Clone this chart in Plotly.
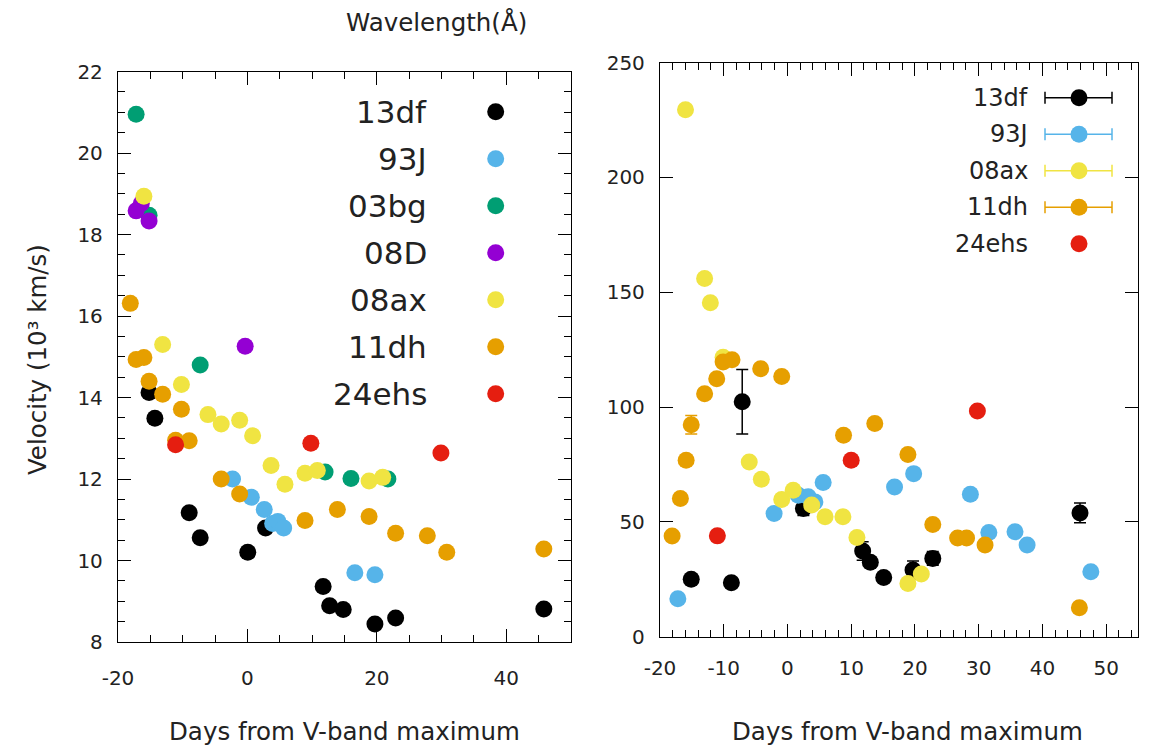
import plotly.graph_objects as go

W, H = 1150, 748
FONT = "DejaVu Sans"
TXT = "#222222"

colors = {
    "13df": "#000000",
    "93J": "#56b4e9",
    "03bg": "#009e73",
    "08D": "#9400d3",
    "08ax": "#f0e442",
    "11dh": "#e69f00",
    "24ehs": "#e51e10",
}

# ---------------- Left panel: velocity (10^3 km/s) ----------------
l_13df_day = [-15.2, -14.3, -9.0, -7.3, 0.05, 2.8, 11.7, 12.7, 14.8, 19.7, 22.9, 45.8]
l_13df_vel = [14.12, 13.49, 11.17, 10.56, 10.20, 10.80, 9.36, 8.89, 8.80, 8.44, 8.59, 8.81]

l_93J_day = [-2.3, 0.6, 2.6, 3.9, 4.7, 5.6, 16.6, 19.7]
l_93J_vel = [12.0, 11.55, 11.25, 10.91, 10.96, 10.80, 9.70, 9.65]

l_03bg_day = [-17.2, -15.2, -7.3, 12.0, 16.0, 21.7]
l_03bg_vel = [20.95, 18.47, 14.80, 12.17, 12.01, 12.0]

l_08D_day = [-17.2, -16.4, -15.2, -0.35]
l_08D_vel = [18.58, 18.76, 18.33, 15.26]

l_08ax_day = [-16.0, -13.1, -10.2, -6.1, -4.05, -1.2, 0.8, 3.65, 5.8, 8.9, 10.8, 18.8, 20.9]
l_08ax_vel = [18.94, 15.30, 14.32, 13.58, 13.35, 13.44, 13.06, 12.33, 11.87, 12.14, 12.21, 11.95, 12.04]

l_11dh_day = [-18.1, -17.2, -16.0, -15.2, -13.1, -10.2, -11.1, -9.0, -4.05, -1.2, 8.9, 13.9, 18.8, 22.9, 27.8, 30.8, 45.8]
l_11dh_vel = [16.31, 14.93, 14.98, 14.40, 14.08, 13.71, 12.95, 12.94, 12.0, 11.63, 10.98, 11.25, 11.08, 10.67, 10.61, 10.20, 10.28]

l_24ehs_day = [-11.1, 9.8, 29.9]
l_24ehs_vel = [12.84, 12.88, 12.64]

left_series = [
    ("13df", l_13df_day, l_13df_vel),
    ("93J", l_93J_day, l_93J_vel),
    ("03bg", l_03bg_day, l_03bg_vel),
    ("08D", l_08D_day, l_08D_vel),
    ("08ax", l_08ax_day, l_08ax_vel),
    ("11dh", l_11dh_day, l_11dh_vel),
    ("24ehs", l_24ehs_day, l_24ehs_vel),
]

# ---------------- Right panel ----------------
r_13df_day = [-15.1, -8.8, -7.1, 2.5, 11.8, 13.0, 15.1, 19.7, 22.8, 45.9]
r_13df_val = [25.0, 23.5, 102.3, 55.8, 37.3, 32.4, 25.8, 29.0, 34.1, 53.9]
r_13df_err = [2.0, 2.0, 14.0, 3.0, 4.0, 2.0, 1.5, 4.0, 3.0, 4.3]

r_93J_day = [-17.2, -2.1, 1.7, 3.25, 4.3, 5.6, 16.8, 19.8, 28.7, 31.6, 35.7, 37.6, 47.6]
r_93J_val = [16.5, 53.6, 61.6, 60.9, 58.7, 67.1, 65.2, 71.0, 62.0, 45.4, 45.7, 39.9, 28.3]
r_93J_err = [1.5] * 13

r_08ax_day = [-16.0, -13.0, -12.1, -10.1, -6.0, -4.1, -0.9, 0.9, 3.8, 5.9, 8.7, 10.9, 18.9, 21.0]
r_08ax_val = [229.4, 156.0, 145.4, 121.7, 76.1, 68.6, 59.7, 63.8, 57.3, 52.2, 52.2, 43.2, 23.2, 27.3]
r_08ax_err = [1.5] * 14

r_11dh_day = [-18.1, -16.8, -15.9, -15.1, -13.0, -11.1, -10.1, -8.7, -4.2, -0.9, 8.8, 13.7, 18.9, 22.8, 26.7, 28.1, 31.0, 45.8]
r_11dh_val = [43.8, 60.2, 76.8, 92.3, 105.8, 112.3, 119.6, 120.6, 116.7, 113.3, 87.7, 92.8, 79.3, 48.9, 43.0, 43.0, 39.9, 12.6]
r_11dh_err = [1.5, 1.5, 1.5, 4.0, 1.5, 1.5, 1.5, 1.5, 1.5, 1.5, 1.5, 1.5, 1.5, 1.5, 1.5, 1.5, 1.5, 1.5]

r_24ehs_day = [-11.0, 10.0, 29.8]
r_24ehs_val = [43.9, 76.8, 98.3]

right_series = [
    ("13df", r_13df_day, r_13df_val, r_13df_err),
    ("93J", r_93J_day, r_93J_val, r_93J_err),
    ("08ax", r_08ax_day, r_08ax_val, r_08ax_err),
    ("11dh", r_11dh_day, r_11dh_val, r_11dh_err),
    ("24ehs", r_24ehs_day, r_24ehs_val, None),
]

# tick labels
left_xticks = [-20, 0, 20, 40]
left_yticks = [8, 10, 12, 14, 16, 18, 20, 22]
right_xticks = [-20, -10, 0, 10, 20, 30, 40, 50]
right_yticks = [0, 50, 100, 150, 200, 250]

MS = 17

fig = go.Figure()

for name, d, v in left_series:
    fig.add_trace(go.Scatter(
        x=d, y=v, mode="markers", name=name, showlegend=False,
        marker=dict(size=MS, color=colors[name], line=dict(width=0)),
        xaxis="x", yaxis="y",
    ))

for name, d, v, e in right_series:
    kw = {}
    if e is not None:
        kw["error_y"] = dict(type="data", array=e, visible=True,
                             color=colors[name], thickness=1.5, width=6)
    fig.add_trace(go.Scatter(
        x=d, y=v, mode="markers", name=name, showlegend=False,
        marker=dict(size=MS, color=colors[name], line=dict(width=0)),
        xaxis="x2", yaxis="y2", **kw,
    ))


def px(x):
    return x / W


def py(y):
    return 1 - y / H


def labels(vals):
    return [str(v) for v in vals]


axis_common = dict(
    showline=True, linecolor="#000000", linewidth=1.3, mirror="allticks",
    ticks="inside", tickcolor="#000000", tickwidth=1, showgrid=False,
    zeroline=False, automargin=False,
    tickfont=dict(family=FONT, size=20, color=TXT),
)

fig.update_layout(
    template="none",
    width=W, height=H,
    margin=dict(l=0, r=0, t=0, b=0, autoexpand=False),
    paper_bgcolor="white", plot_bgcolor="white",
    font=dict(family=FONT, color=TXT),
    showlegend=False,
    xaxis=dict(domain=[px(118), px(571)], range=[-20, 50],
               tickvals=left_xticks, ticktext=labels(left_xticks),
               ticklen=13, ticklabelstandoff=18,
               minor=dict(dtick=5, tick0=0, ticklen=7, ticks="inside", tickcolor="#000000"),
               anchor="y", **axis_common),
    yaxis=dict(domain=[py(642), py(71.5)], range=[8, 22],
               tickvals=left_yticks, ticktext=labels(left_yticks),
               ticklen=13, ticklabelstandoff=10,
               minor=dict(dtick=0.5, tick0=0, ticklen=7, ticks="inside", tickcolor="#000000"),
               anchor="x", **axis_common),
    xaxis2=dict(domain=[px(660), px(1138)], range=[-20, 55],
                tickvals=right_xticks, ticktext=labels(right_xticks),
                ticklen=13, ticklabelstandoff=13,
                minor=dict(dtick=2, tick0=0, ticklen=7, ticks="inside", tickcolor="#000000"),
                anchor="y2", **axis_common),
    yaxis2=dict(domain=[py(636.7), py(62.5)], range=[0, 250],
                tickvals=right_yticks, ticktext=labels(right_yticks),
                ticklen=13, ticklabelstandoff=10,
                anchor="x2", **axis_common),
)

title_font = dict(family=FONT, size=24.5, color=TXT)
annotations = [
    dict(text="Wavelength(Å)", x=px(436), y=py(22), xref="paper", yref="paper",
         xanchor="center", yanchor="middle", showarrow=False, font=title_font),
    dict(text="Velocity (10³ km/s)", x=px(38), y=py(360), xref="paper", yref="paper",
         xanchor="center", yanchor="middle", showarrow=False, textangle=-90, font=title_font),
    dict(text="Days from V-band maximum", x=px(344), y=py(731), xref="paper", yref="paper",
         xanchor="center", yanchor="middle", showarrow=False, font=title_font),
    dict(text="Days from V-band maximum", x=px(907), y=py(731), xref="paper", yref="paper",
         xanchor="center", yanchor="middle", showarrow=False, font=title_font),
]

shapes = []

# Left legend (text left of marker)
left_leg_names = ["13df", "93J", "03bg", "08D", "08ax", "11dh", "24ehs"]
for i, name in enumerate(left_leg_names):
    yy = 111.7 + i * 47.0
    annotations.append(dict(text=name, x=px(429), y=py(yy), xref="paper", yref="paper",
                            xanchor="right", yanchor="middle", showarrow=False,
                            font=dict(family=FONT, size=31, color=TXT)))
    shapes.append(dict(type="circle", xref="paper", yref="paper",
                       xsizemode="pixel", ysizemode="pixel",
                       xanchor=px(495.7), yanchor=py(yy),
                       x0=-MS / 2, x1=MS / 2, y0=-MS / 2, y1=MS / 2,
                       fillcolor=colors[name], line=dict(width=0)))

# Right legend
right_leg_names = ["13df", "93J", "08ax", "11dh", "24ehs"]
right_leg_err = [True, True, True, True, False]
for i, name in enumerate(right_leg_names):
    yy = 97.7 + i * 36.5
    annotations.append(dict(text=name, x=px(1030), y=py(yy), xref="paper", yref="paper",
                            xanchor="right", yanchor="middle", showarrow=False,
                            font=dict(family=FONT, size=24, color=TXT)))
    if right_leg_err[i]:
        shapes.append(dict(type="line", xref="paper", yref="paper",
                           x0=px(1045), x1=px(1112), y0=py(yy), y1=py(yy),
                           line=dict(color=colors[name], width=1.5)))
        for xc in (1045, 1112):
            shapes.append(dict(type="line", xref="paper", yref="paper",
                               x0=px(xc), x1=px(xc), y0=py(yy - 6), y1=py(yy + 6),
                               line=dict(color=colors[name], width=1.5)))
    shapes.append(dict(type="circle", xref="paper", yref="paper",
                       xsizemode="pixel", ysizemode="pixel",
                       xanchor=px(1079), yanchor=py(yy),
                       x0=-MS / 2, x1=MS / 2, y0=-MS / 2, y1=MS / 2,
                       fillcolor=colors[name], line=dict(width=0)))

fig.update_layout(annotations=annotations, shapes=shapes)

fig.write_html("out.html")
